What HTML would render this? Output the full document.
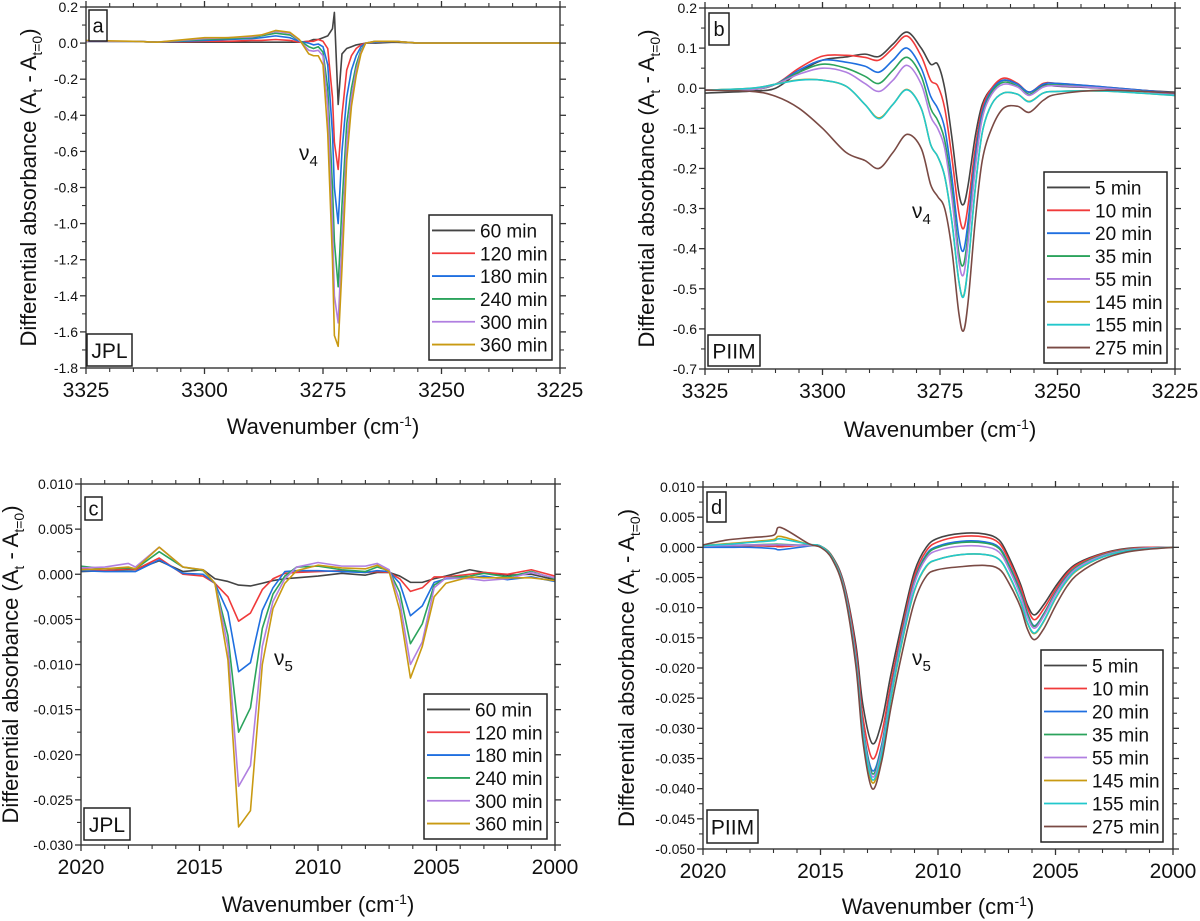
<!DOCTYPE html>
<html><head><meta charset="utf-8"><style>
html,body{margin:0;padding:0;background:#fff;}
svg{display:block;font-family:"Liberation Sans",Arial,sans-serif;}
</style></head><body>
<svg id="fig" width="1200" height="921" viewBox="0 0 1200 921" xmlns="http://www.w3.org/2000/svg"></svg>
<script>
// ---------- Panel a data (JPL, nu4) ----------
const aX = [3325,3315,3310,3300,3295,3290,3288,3285,3282,3280,3278,3277,3276,3275,3274,3273,3272.6,3271.8,3271,3270,3269,3268,3267,3266,3264,3260,3255,3250,3240,3225];
const a60 = [0.01,0.01,0.005,0.005,0.005,0.005,0.005,0.005,0.005,0.005,0.01,0.02,0.02,0.03,0.04,0.08,0.17,-0.34,-0.06,-0.03,-0.02,-0.01,-0.005,0,0,0.005,0,0,0,0];
const a120 = [0.01,0.01,0.005,0.01,0.01,0.015,0.015,0.02,0.015,0.005,0.01,0.01,0.02,0.01,-0.03,-0.3,-0.55,-0.7,-0.4,-0.15,-0.07,-0.03,-0.01,0,0.005,0.01,0,0,0,0];
const a180 = [0.01,0.01,0.005,0.015,0.02,0.025,0.03,0.04,0.03,0.01,0.0,-0.01,-0.005,-0.02,-0.12,-0.5,-0.8,-1.0,-0.6,-0.3,-0.15,-0.07,-0.02,0,0.005,0.01,0,0,0,0];
const a240 = [0.01,0.01,0.005,0.02,0.025,0.03,0.04,0.055,0.045,0.015,-0.02,-0.03,-0.02,-0.05,-0.25,-0.8,-1.1,-1.35,-0.9,-0.45,-0.25,-0.12,-0.04,0,0.01,0.01,0,0,0,0];
const a300 = [0.01,0.01,0.005,0.025,0.03,0.035,0.045,0.065,0.055,0.015,-0.04,-0.045,-0.04,-0.07,-0.35,-1.0,-1.4,-1.55,-1.1,-0.55,-0.3,-0.15,-0.05,0,0.01,0.01,0,0,0,0];
const a360 = [0.015,0.01,0.005,0.03,0.03,0.04,0.045,0.07,0.06,0.02,-0.06,-0.07,-0.07,-0.12,-0.5,-1.2,-1.62,-1.68,-1.25,-0.65,-0.35,-0.18,-0.06,0,0.01,0.01,0,0,0,0];
const aYTicks = ["0.2","0.0","-0.2","-0.4","-0.6","-0.8","-1.0","-1.2","-1.4","-1.6","-1.8"];
const aXTicks = ["3325","3300","3275","3250","3225"];
const aLegend = ["60 min","120 min","180 min","240 min","300 min","360 min"];

// ---------- Panel b data (PIIM, nu4) ----------
const bX = [3325,3315,3310,3305,3300,3295,3291,3288,3285,3282,3279,3277,3275.5,3274,3272.5,3271,3270,3269,3267.5,3266,3264,3261.5,3258.5,3256,3253,3250,3240,3225];
const b5 = [-0.012,-0.007,0.0,0.04,0.07,0.078,0.085,0.079,0.11,0.14,0.1,0.06,0.06,0.0,-0.12,-0.26,-0.29,-0.24,-0.12,-0.04,0.0,0.02,0.01,-0.01,0.008,0.005,0.0,-0.01];
const b10 = [-0.005,-0.003,0.01,0.05,0.08,0.082,0.077,0.07,0.1,0.13,0.08,0.02,0.006,-0.05,-0.17,-0.31,-0.35,-0.29,-0.15,-0.05,0.0,0.025,0.012,-0.01,0.012,0.012,0.003,-0.012];
const b20 = [-0.004,-0.003,0.01,0.045,0.07,0.065,0.055,0.04,0.07,0.1,0.05,-0.02,-0.05,-0.1,-0.22,-0.37,-0.405,-0.33,-0.17,-0.06,-0.005,0.02,0.01,-0.01,0.01,0.012,0.003,-0.012];
const b35 = [-0.004,-0.003,0.01,0.04,0.06,0.05,0.03,0.012,0.045,0.077,0.03,-0.05,-0.08,-0.13,-0.25,-0.41,-0.44,-0.36,-0.19,-0.07,-0.01,0.015,0.005,-0.015,0.005,0.008,0.0,-0.014];
const b55 = [-0.004,-0.003,0.01,0.035,0.05,0.04,0.012,-0.008,0.02,0.057,0.01,-0.07,-0.1,-0.15,-0.27,-0.43,-0.465,-0.38,-0.2,-0.075,-0.015,0.01,0.003,-0.018,0.003,0.006,0.0,-0.015];
const b145 = [-0.005,0.0,0.01,0.021,0.02,0.005,-0.04,-0.074,-0.04,-0.003,-0.05,-0.14,-0.17,-0.22,-0.33,-0.48,-0.518,-0.44,-0.25,-0.11,-0.04,-0.012,-0.015,-0.033,-0.012,-0.008,-0.007,-0.018];
const b155 = [-0.005,0.0,0.01,0.02,0.02,0.005,-0.04,-0.076,-0.04,-0.004,-0.05,-0.14,-0.17,-0.22,-0.33,-0.48,-0.52,-0.44,-0.25,-0.11,-0.04,-0.012,-0.015,-0.034,-0.012,-0.008,-0.007,-0.018];
const b275 = [-0.005,-0.008,-0.02,-0.05,-0.1,-0.16,-0.18,-0.2,-0.16,-0.115,-0.15,-0.24,-0.27,-0.3,-0.4,-0.56,-0.605,-0.53,-0.33,-0.18,-0.1,-0.05,-0.045,-0.06,-0.03,-0.015,-0.005,-0.012];
const bYTicks = ["0.2","0.1","0.0","-0.1","-0.2","-0.3","-0.4","-0.5","-0.6","-0.7"];
const bXTicks = ["3325","3300","3275","3250","3225"];
const bLegend = ["5 min","10 min","20 min","35 min","55 min","145 min","155 min","275 min"];

// ---------- Panel c data (JPL, nu5) ----------
const cX = [2020,2019,2018,2017.7,2016.7,2015.7,2014.85,2014.35,2013.8,2013.35,2012.85,2012.35,2011.9,2011.4,2010.9,2010,2009,2008,2007.5,2007,2006.55,2006.1,2005.6,2005.1,2004.6,2003.6,2003,2002,2001,2000];
const c60 = [0.0003,0.0004,0.0005,0.0005,0.0015,0.0003,0.0005,-0.0005,-0.0008,-0.0012,-0.0013,-0.001,-0.0007,-0.0005,-0.0004,-0.0002,0.0001,-0.0001,0.0002,0.0002,-0.0002,-0.0009,-0.0009,-0.0005,-0.0002,0.0005,0.0002,-0.0001,0.0,-0.0006];
const c120 = [0.0006,0.0004,0.0006,0.0005,0.0018,0.0,-0.0002,-0.001,-0.0025,-0.0052,-0.0043,-0.0017,-0.0005,0.0001,0.0002,0.0003,0.0004,0.0002,0.0003,0.0002,-0.0005,-0.0019,-0.0015,-0.0003,-0.0003,0.0,0.0002,0.0,0.0005,-0.0002];
const c180 = [0.0004,0.0003,0.0003,0.0003,0.0016,0.0001,0.0,-0.001,-0.0042,-0.0108,-0.0098,-0.004,-0.0015,0.0003,0.0004,0.0004,0.0003,0.0002,0.0004,0.0003,-0.001,-0.0046,-0.0035,-0.0009,-0.0005,-0.0004,-0.0002,-0.0006,-0.0003,-0.0008];
const c240 = [0.0009,0.0006,0.0007,0.0006,0.0025,0.0008,0.0004,-0.001,-0.0068,-0.0175,-0.0148,-0.006,-0.0022,-0.0002,0.0008,0.0009,0.0005,0.0003,0.0008,0.0004,-0.002,-0.0077,-0.0055,-0.0012,-0.0004,-0.0002,0.0001,-0.0003,0.0003,-0.0005];
const c300 = [0.0007,0.0008,0.0012,0.0008,0.003,0.0008,0.0005,-0.001,-0.008,-0.0235,-0.0212,-0.008,-0.003,-0.0005,0.0008,0.0013,0.0009,0.0009,0.0012,0.0005,-0.003,-0.01,-0.0075,-0.0015,-0.0004,-0.0005,-0.0007,-0.0005,0.0002,-0.0004];
const c360 = [0.0005,0.0006,0.0008,0.0006,0.003,0.0008,0.0005,-0.001,-0.0095,-0.028,-0.0262,-0.01,-0.0038,-0.001,0.0004,0.001,0.0007,0.0006,0.001,0.0003,-0.004,-0.0115,-0.008,-0.0025,-0.001,-0.0003,-0.0004,-0.0004,-0.0004,-0.0007];
const cYTicks = ["0.010","0.005","0.000","-0.005","-0.010","-0.015","-0.020","-0.025","-0.030"];
const cXTicks = ["2020","2015","2010","2005","2000"];
const cLegend = ["60 min","120 min","180 min","240 min","300 min","360 min"];

// ---------- Panel d data (PIIM, nu5) ----------
const dX = [2020,2019,2018,2017,2016.7,2015.5,2015,2014.5,2014,2013.5,2013.2,2012.8,2012.4,2012,2011.5,2011,2010.5,2010,2009,2008,2007.4,2007,2006.5,2006.2,2005.9,2005.5,2005,2004.5,2004,2003,2002,2001,2000];
const d5 = [0.0003,0.0003,0.0003,0.0002,0.0002,0.0004,0.0002,-0.0015,-0.006,-0.016,-0.026,-0.0325,-0.029,-0.021,-0.012,-0.004,0.0,0.0015,0.0023,0.0022,0.0012,-0.0015,-0.006,-0.0095,-0.0112,-0.0095,-0.0065,-0.004,-0.0025,-0.001,-0.0002,0.0,0.0];
const d10 = [0.0003,0.0003,0.0003,0.0002,0.0001,0.0004,0.0002,-0.0016,-0.0063,-0.017,-0.028,-0.035,-0.031,-0.0225,-0.013,-0.0048,-0.0006,0.0009,0.0018,0.0017,0.0007,-0.002,-0.0065,-0.010,-0.012,-0.0102,-0.007,-0.0043,-0.0027,-0.0011,-0.0003,0.0,0.0];
const d20 = [0.0,0.0,0.0,-0.0002,-0.0004,0.0002,0.0002,-0.0017,-0.0066,-0.018,-0.0295,-0.037,-0.0328,-0.0237,-0.0138,-0.0055,-0.0012,0.0002,0.001,0.0009,0.0,-0.0027,-0.0072,-0.0108,-0.013,-0.011,-0.0075,-0.0047,-0.003,-0.0013,-0.0004,-0.0001,0.0];
const d35 = [0.0002,0.0003,0.0004,0.0005,0.0005,0.0003,0.0002,-0.0017,-0.0067,-0.0182,-0.0298,-0.0375,-0.0332,-0.024,-0.014,-0.0057,-0.0014,0.0,0.0008,0.0007,-0.0002,-0.0029,-0.0074,-0.011,-0.0131,-0.0111,-0.0076,-0.0048,-0.003,-0.0013,-0.0004,-0.0001,0.0];
const d55 = [0.0002,0.0003,0.0004,0.0004,0.0004,0.0003,0.0002,-0.0018,-0.0068,-0.0184,-0.0302,-0.038,-0.0336,-0.0243,-0.0143,-0.006,-0.0018,-0.0005,0.0002,0.0001,-0.0008,-0.0034,-0.0079,-0.0115,-0.0134,-0.0114,-0.0078,-0.005,-0.0032,-0.0014,-0.0005,-0.0001,0.0];
const d145 = [0.0003,0.0006,0.0009,0.0013,0.0018,0.0005,0.0002,-0.0018,-0.007,-0.019,-0.031,-0.039,-0.0345,-0.025,-0.0152,-0.0072,-0.0032,-0.002,-0.0012,-0.0012,-0.002,-0.0045,-0.0089,-0.0125,-0.0143,-0.0123,-0.0085,-0.0055,-0.0036,-0.0016,-0.0006,-0.0002,0.0];
const d155 = [0.0003,0.0005,0.0008,0.0011,0.0014,0.0005,0.0002,-0.0018,-0.007,-0.0188,-0.0307,-0.0385,-0.0342,-0.0248,-0.015,-0.0071,-0.0031,-0.002,-0.0012,-0.0012,-0.002,-0.0044,-0.0088,-0.0124,-0.0142,-0.0122,-0.0084,-0.0054,-0.0035,-0.0016,-0.0006,-0.0002,0.0];
const d275 = [0.0004,0.0012,0.0016,0.002,0.0033,0.0006,0.0,-0.002,-0.0073,-0.0195,-0.032,-0.040,-0.0355,-0.0265,-0.017,-0.009,-0.0048,-0.0037,-0.0032,-0.003,-0.0036,-0.0058,-0.0098,-0.0135,-0.0153,-0.0135,-0.0097,-0.0064,-0.0043,-0.002,-0.0008,-0.0003,0.0];
const dYTicks = ["0.010","0.005","0.000","-0.005","-0.010","-0.015","-0.020","-0.025","-0.030","-0.035","-0.040","-0.045","-0.050"];
const dXTicks = ["2020","2015","2010","2005","2000"];
const dLegend = ["5 min","10 min","20 min","35 min","55 min","145 min","155 min","275 min"];

const NS = "http://www.w3.org/2000/svg";
const svg = document.getElementById("fig");
const C6 = ["#444444","#f03a3a","#1f6fe0","#2ba35c","#b07fe0","#c99a12"];
const C8 = ["#444444","#f03a3a","#1f6fe0","#2ba35c","#b07fe0","#c99a12","#22c8cc","#7a4a44"];

function el(tag, attrs, parent){
  const e = document.createElementNS(NS, tag);
  for (const k in attrs) e.setAttribute(k, attrs[k]);
  (parent||svg).appendChild(e);
  return e;
}

function smoothPath(pts){
  let d = "M" + pts[0][0].toFixed(2) + "," + pts[0][1].toFixed(2);
  for (let i=0;i<pts.length-1;i++){
    const p0 = pts[Math.max(0,i-1)], p1 = pts[i], p2 = pts[i+1], p3 = pts[Math.min(pts.length-1,i+2)];
    const c1x = p1[0]+(p2[0]-p0[0])/6, c1y = p1[1]+(p2[1]-p0[1])/6;
    const c2x = p2[0]-(p3[0]-p1[0])/6, c2y = p2[1]-(p3[1]-p1[1])/6;
    d += " C"+c1x.toFixed(2)+","+c1y.toFixed(2)+" "+c2x.toFixed(2)+","+c2y.toFixed(2)+" "+p2[0].toFixed(2)+","+p2[1].toFixed(2);
  }
  return d;
}
function linePath(pts){
  return pts.map((p,i)=>(i?"L":"M")+p[0].toFixed(2)+","+p[1].toFixed(2)).join(" ");
}

function panel(cfg){
  const g = el("g", {});
  
  
  const L=cfg.L,R=cfg.R,T=cfg.T,B=cfg.B;
  const xs = v => L + (cfg.x0 - v)/(cfg.x0 - cfg.x1)*(R-L);
  const ys = v => T + (cfg.y0 - v)/(cfg.y0 - cfg.y1)*(B-T);

  const sg = el("g", {"clip-path":"url(#clip-"+cfg.id+")"}, g);
  const cp = el("clipPath", {id:"clip-"+cfg.id}, g);
  el("rect",{x:L,y:T-2,width:R-L,height:B-T+4},cp);
  cfg.series.forEach((s,i)=>{
    const pts = cfg.X.map((xv,j)=>[xs(xv), ys(s[j])]);
    const p = el("path",{d: cfg.smooth?smoothPath(pts):linePath(pts), fill:"none", stroke:cfg.colors[i], "stroke-width":1.6, "stroke-linejoin":"round"}, sg);
    
    
  });

  const fr = el("rect",{x:L,y:T,width:R-L,height:B-T,fill:"none",stroke:"#333","stroke-width":1.4}, g);
  
  

  const xt = el("g",{},g);
  
  
  const nMaj = cfg.xTicks.length;
  const xstep = (cfg.x0 - cfg.x1)/(nMaj-1);
  for (let i=0;i<nMaj;i++){
    const v = cfg.x0 - i*xstep, x = xs(v);
    el("line",{x1:x,y1:B,x2:x,y2:B+6,stroke:"#333","stroke-width":1.3},xt);
    el("line",{x1:x,y1:T,x2:x,y2:T-6,stroke:"#333","stroke-width":1.3},xt);
    const t = el("text",{x:x,y:B+29,"text-anchor":"middle","font-size":21,fill:"#111"},xt);
    t.textContent = cfg.xTicks[i];
    
    
    if (i<nMaj-1){
      for (let k=1;k<5;k++){
        const xm = xs(v - k*xstep/5);
        el("line",{x1:xm,y1:B,x2:xm,y2:B+4,stroke:"#333","stroke-width":1.1},xt);
        el("line",{x1:xm,y1:T,x2:xm,y2:T-4,stroke:"#333","stroke-width":1.1},xt);
      }
    }
  }
  const yt = el("g",{},g);
  
  
  const nY = cfg.yTicks.length;
  const ystep = (cfg.y0 - cfg.y1)/(nY-1);
  for (let i=0;i<nY;i++){
    const v = cfg.y0 - i*ystep, y = ys(v);
    el("line",{x1:L,y1:y,x2:L-6,y2:y,stroke:"#333","stroke-width":1.3},yt);
    el("line",{x1:R,y1:y,x2:R+6,y2:y,stroke:"#333","stroke-width":1.3},yt);
    const t = el("text",{x:L-8,y:y+5,"text-anchor":"end","font-size":14,fill:"#111"},yt);
    t.textContent = cfg.yTicks[i];
    
    
    if (i<nY-1){
      const ym = ys(v - ystep/2);
      el("line",{x1:L,y1:ym,x2:L-4,y2:ym,stroke:"#333","stroke-width":1.1},yt);
      el("line",{x1:R,y1:ym,x2:R+4,y2:ym,stroke:"#333","stroke-width":1.1},yt);
    }
  }
  const xtitle = el("text",{x:(L+R)/2,y:cfg.xTitleY,"text-anchor":"middle","font-size":22,fill:"#111"},g);
  
  
  xtitle.innerHTML = 'Wavenumber (cm<tspan dy="-8" font-size="14">-1</tspan><tspan dy="8">)</tspan>';
  const ytitle = el("text",{transform:"translate("+(cfg.yTitleX)+","+((T+B)/2)+") rotate(-90)","text-anchor":"middle","font-size":22,fill:"#111"},g);
  
  
  ytitle.innerHTML = 'Differential absorbance (A<tspan dy="6" font-size="14">t</tspan><tspan dy="-6"> - A</tspan><tspan dy="6" font-size="14">t=0</tspan><tspan dy="-6">)</tspan>';

  const lb = el("g",{},g);
  
  
  el("rect",{x:cfg.lbox[0],y:cfg.lbox[1],width:cfg.lbox[2],height:cfg.lbox[3],fill:"#fff",stroke:"#222","stroke-width":1.5},lb);
  const lt = el("text",{x:cfg.lbox[0]+cfg.lbox[2]/2,y:cfg.lbox[1]+cfg.lbox[3]/2+7,"text-anchor":"middle","font-size":20,fill:"#111"},lb);
  lt.textContent = cfg.letter;
  const sb = el("g",{},g);
  
  
  el("rect",{x:cfg.sbox[0],y:cfg.sbox[1],width:cfg.sbox[2],height:cfg.sbox[3],fill:"#fff",stroke:"#222","stroke-width":1.5},sb);
  const st = el("text",{x:cfg.sbox[0]+cfg.sbox[2]/2,y:cfg.sbox[1]+cfg.sbox[3]/2+8,"text-anchor":"middle","font-size":21,fill:"#111"},sb);
  st.textContent = cfg.source;

  const nu = el("text",{x:cfg.nu[0],y:cfg.nu[1],"font-size":21,fill:"#111"},g);
  
  
  nu.innerHTML = 'ν<tspan dy="6" font-size="15">'+cfg.nu[2]+'</tspan>';

  const lg = el("g",{},g);
  
  
  const [lx,ly,lw,lh] = cfg.lg;
  el("rect",{x:lx,y:ly,width:lw,height:lh,fill:"#fff",stroke:"#222","stroke-width":1.5},lg);
  const rowH = (lh-8)/cfg.legend.length;
  cfg.legend.forEach((name,i)=>{
    const cy = ly+4+rowH*(i+0.5);
    const e = el("g",{},lg);
    
    
    el("line",{x1:lx+3,y1:cy,x2:lx+46,y2:cy,stroke:cfg.colors[i],"stroke-width":1.8},e);
    const t = el("text",{x:lx+51,y:cy+7,"font-size":19,fill:"#111"},e);
    t.textContent = name;
  });
}

panel({id:"a",name:"panel-a",letter:"a",source:"JPL",L:86,R:560,T:7,B:368,x0:3325,x1:3225,y0:0.2,y1:-1.8,
  X:aX,series:[a60,a120,a180,a240,a300,a360],colors:C6,legend:aLegend,xTicks:aXTicks,yTicks:aYTicks,smooth:false,
  xTitleY:434,yTitleX:36,lbox:[89,10,18,31],sbox:[87,334,45,32],nu:[299,160,"4"],lg:[429,215,123,145]});
panel({id:"b",name:"panel-b",letter:"b",source:"PIIM",L:705,R:1175,T:8,B:369,x0:3325,x1:3225,y0:0.2,y1:-0.7,
  X:bX,series:[b5,b10,b20,b35,b55,b145,b155,b275],colors:C8,legend:bLegend,xTicks:bXTicks,yTicks:bYTicks,smooth:true,
  xTitleY:437,yTitleX:654,lbox:[709,13,20,32],sbox:[708,335,52,31],nu:[912,218,"4"],lg:[1044,172,123,191]});
panel({id:"c",name:"panel-c",letter:"c",source:"JPL",L:81,R:555,T:484,B:845,x0:2020,x1:2000,y0:0.010,y1:-0.030,
  X:cX,series:[c60,c120,c180,c240,c300,c360],colors:C6,legend:cLegend,xTicks:cXTicks,yTicks:cYTicks,smooth:false,
  xTitleY:912,yTitleX:18,lbox:[85,497,17,23],sbox:[84,808,46,32],nu:[274,665,"5"],lg:[424,694,123,145]});
panel({id:"d",name:"panel-d",letter:"d",source:"PIIM",L:703,R:1173,T:487,B:849,x0:2020,x1:2000,y0:0.010,y1:-0.050,
  X:dX,series:[d5,d10,d20,d35,d55,d145,d155,d275],colors:C8,legend:dLegend,xTicks:dXTicks,yTicks:dYTicks,smooth:true,
  xTitleY:914,yTitleX:634,lbox:[707,492,19,30],sbox:[707,810,51,33],nu:[912,665,"5"],lg:[1041,650,122,192]});
</script>
</body></html>
